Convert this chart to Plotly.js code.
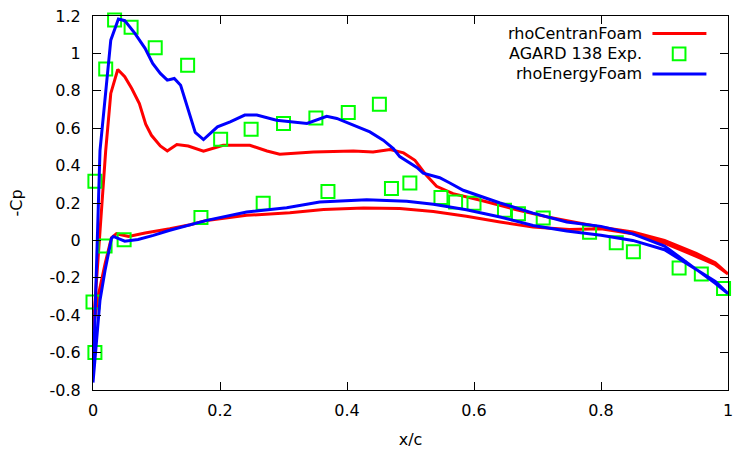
<!DOCTYPE html>
<html><head><meta charset="utf-8">
<script src="https://cdn.plot.ly/plotly-3.0.1.min.js"></script>
<style>html,body{margin:0;padding:0;background:#fff}#chart{width:735px;height:449px}</style>
</head><body><div id="chart"></div>
<script>
// rhoCentranFoam: trailing edge -> lower branch -> leading edge -> upper branch -> trailing edge
const centranX = [1.0,0.98,0.95,0.9,0.85,0.8,0.75,0.693,0.641,0.588,0.536,0.483,0.426,0.363,0.31,0.242,0.179,0.153,0.121,0.09,0.082,0.056,0.037,0.029,0.019,0.008,0.0,
  0.02,0.028,0.039,0.05,0.061,0.073,0.083,0.092,0.106,0.117,0.132,0.15,0.174,0.189,0.205,0.247,0.274,0.294,0.347,0.41,0.441,0.468,0.489,0.507,0.525,0.541,0.567,0.615,0.667,0.72,0.8,0.85,0.9,0.95,0.98,1.0];
const centranY = [-0.18,-0.13,-0.085,-0.015,0.035,0.062,0.058,0.071,0.098,0.129,0.155,0.17,0.173,0.165,0.148,0.134,0.107,0.084,0.062,0.045,0.04,0.021,0.036,0.014,-0.125,-0.3,-0.48,
  0.48,0.786,0.914,0.875,0.812,0.732,0.621,0.562,0.505,0.478,0.513,0.505,0.477,0.491,0.509,0.509,0.478,0.461,0.473,0.478,0.473,0.486,0.468,0.428,0.348,0.289,0.25,0.211,0.164,0.122,0.07,0.045,0.0,-0.07,-0.12,-0.18];

// rhoEnergyFoam
const energyX = [1.0,0.98,0.95,0.9,0.85,0.8,0.746,0.693,0.641,0.588,0.536,0.494,0.431,0.357,0.305,0.242,0.179,0.148,0.121,0.095,0.082,0.071,0.05,0.032,0.029,0.019,0.011,0.0,
  0.011,0.028,0.04,0.05,0.066,0.082,0.094,0.106,0.117,0.128,0.138,0.149,0.161,0.174,0.196,0.216,0.239,0.258,0.289,0.337,0.352,0.368,0.384,0.415,0.436,0.457,0.473,0.483,0.51,0.52,0.546,0.562,0.583,0.641,0.693,0.746,0.8,0.85,0.9,0.95,0.98,1.0];
const energyY = [-0.285,-0.22,-0.155,-0.05,0.0,0.027,0.05,0.08,0.125,0.164,0.193,0.209,0.218,0.205,0.175,0.152,0.107,0.08,0.054,0.027,0.014,0.005,-0.004,0.021,0.01,-0.16,-0.32,-0.76,
  0.48,1.071,1.184,1.175,1.107,1.027,0.946,0.893,0.857,0.866,0.83,0.714,0.577,0.539,0.607,0.634,0.67,0.67,0.643,0.625,0.643,0.664,0.652,0.607,0.58,0.536,0.491,0.448,0.39,0.36,0.335,0.307,0.268,0.2,0.146,0.098,0.075,0.035,-0.03,-0.155,-0.23,-0.285];

// AGARD 138 experiment
const expX = [0.003,0.0,0.003,0.019,0.020,0.034,0.049,0.060,0.098,0.149,0.170,0.201,0.249,0.268,0.300,0.351,0.370,0.402,0.451,0.470,0.499,0.548,0.571,0.600,0.648,0.670,0.709,0.782,0.824,0.851,0.923,0.958,0.993];
const expY = [0.316,-0.33,-0.6,-0.03,0.916,1.178,0.004,1.14,1.03,0.937,0.123,0.541,0.595,0.198,0.625,0.655,0.262,0.684,0.728,0.277,0.307,0.229,0.205,0.198,0.161,0.143,0.12,0.043,-0.013,-0.061,-0.147,-0.18,-0.257];

const xTicks = [0,0.2,0.4,0.6,0.8,1];
const xTickText = ['0','0.2','0.4','0.6','0.8','1'];
const yTicks = [-0.8,-0.6,-0.4,-0.2,0,0.2,0.4,0.6,0.8,1,1.2];
const yTickText = ['-0.8','-0.6','-0.4','-0.2','0','0.2','0.4','0.6','0.8','1','1.2'];
const legendNames = ['rhoCentranFoam','AGARD 138 Exp.','rhoEnergyFoam'];

const RED='#ff0000', BLUE='#0000ff', GREEN='#00ff00';
const FONT = {family:'DejaVu Sans', size:16, color:'#000'};

const traces = [
  {x:centranX, y:centranY, mode:'lines', line:{color:RED, width:3}, name:legendNames[0], showlegend:false},
  {x:expX, y:expY, mode:'markers', marker:{symbol:'square-open', size:13, color:GREEN, line:{width:2, color:GREEN}}, name:legendNames[1], showlegend:false, cliponaxis:false},
  {x:energyX, y:energyY, mode:'lines', line:{color:BLUE, width:3}, name:legendNames[2], showlegend:false}
];

// legend (gnuplot style: text then sample)
const legY = [0.953, 0.899, 0.845];
const annotations = legendNames.map((n,i)=>({xref:'paper', yref:'paper', x:0.867, y:legY[i], xanchor:'right', yanchor:'middle', text:n, showarrow:false, font:FONT}));
const shapes = [
  {type:'line', xref:'paper', yref:'paper', x0:0.881, x1:0.966, y0:legY[0], y1:legY[0], line:{color:RED, width:3}},
  {type:'line', xref:'paper', yref:'paper', x0:0.881, x1:0.966, y0:legY[2], y1:legY[2], line:{color:BLUE, width:3}},
  {type:'rect', xref:'paper', yref:'paper', x0:0.913, x1:0.933, y0:legY[1]-0.017, y1:legY[1]+0.017, line:{color:GREEN, width:2}}
];

const layout = {
  width:735, height:449,
  margin:{l:93, r:7, t:16, b:59},
  paper_bgcolor:'#fff', plot_bgcolor:'#fff',
  font:FONT,
  showlegend:false,
  xaxis:{range:[0,1], tickvals:xTicks, ticktext:xTickText, ticks:'inside', ticklen:8, tickcolor:'#000', showline:true, linecolor:'#000', linewidth:1, mirror:'ticks', showgrid:false, zeroline:false, ticklabelstandoff:6,
    title:{text:'x/c', font:FONT, standoff:14}},
  yaxis:{range:[-0.8,1.2], tickvals:yTicks, ticktext:yTickText, ticks:'inside', ticklen:8, tickcolor:'#000', showline:true, linecolor:'#000', linewidth:1, mirror:'ticks', showgrid:false, zeroline:false, ticklabelstandoff:8,
    title:{text:'-Cp', font:FONT, standoff:22}},
  annotations:annotations,
  shapes:shapes
};
Plotly.newPlot('chart', traces, layout, {displayModeBar:false, staticPlot:true});
</script></body></html>
